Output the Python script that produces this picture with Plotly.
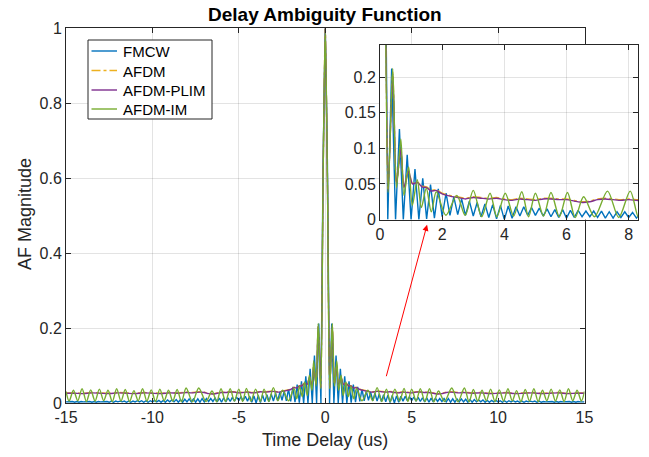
import numpy as np
import plotly.graph_objects as go

# ---------------- data (positive delays; AF is symmetric) -------------
fmcw_delay = np.linspace(0, 15, 121)          # delay samples (us)
fmcw_af = [1.0, 0.64, 0.0, 0.212, 0.0, 0.127, 0.0, 0.091, 0.0, 0.071,
           0.0, 0.058, 0.001, 0.049, 0.002, 0.043, 0.004, 0.037, 0.006, 0.032,
           0.007, 0.029, 0.006, 0.026, 0.005, 0.024, 0.004, 0.022, 0.003, 0.021,
           0.001, 0.020, 0.0, 0.019, 0.002, 0.018, 0.005, 0.018, 0.006, 0.017,
           0.006, 0.016, 0.005, 0.015, 0.004, 0.014, 0.003, 0.014, 0.002, 0.013,
           0.003, 0.013, 0.004, 0.012, 0.004, 0.012, 0.003, 0.012, 0.002, 0.011,
           0.002, 0.011, 0.003, 0.011, 0.003, 0.010, 0.002, 0.009, 0.002, 0.009,
           0.003, 0.008, 0.003, 0.008, 0.002, 0.007, 0.002, 0.007, 0.003, 0.007,
           0.003, 0.006, 0.002, 0.006, 0.002, 0.006, 0.003, 0.006, 0.003, 0.005,
           0.002, 0.005, 0.002, 0.005, 0.003, 0.005, 0.003, 0.005, 0.002, 0.005,
           0.002, 0.004, 0.003, 0.004, 0.003, 0.004, 0.002, 0.004, 0.002, 0.004,
           0.003, 0.004, 0.003, 0.004, 0.002, 0.004, 0.002, 0.004, 0.003, 0.004,
           0.003]

plim_delay = [0, 0.125, 0.26, 0.41, 0.53, 0.67, 0.77, 0.92, 1.04, 1.2,
              1.35, 1.5, 1.65, 1.8, 2.0, 2.25, 2.5, 2.75, 3.0, 3.25,
              3.5, 3.75, 4.0, 4.25, 4.5, 4.75, 5.0, 5.25, 5.5, 5.75,
              6.0, 6.25, 6.5, 6.75, 7.0, 7.25, 7.5, 7.75, 8.0, 8.5,
              9.0, 9.5, 10.0, 10.5, 11.0, 11.5, 12.0, 12.5, 13.0, 13.5,
              14.0, 14.5, 15.0]
afdm_af = [1.0, 0.6, 0.041, 0.206, 0.051, 0.1, 0.046, 0.069, 0.051, 0.053,
           0.047, 0.046, 0.041, 0.042, 0.037, 0.034, 0.032, 0.030, 0.032, 0.031,
           0.030, 0.031, 0.029, 0.028, 0.030, 0.029, 0.028, 0.030, 0.030, 0.029,
           0.029, 0.027, 0.025, 0.026, 0.029, 0.030, 0.029, 0.028, 0.029, 0.027,
           0.028, 0.026, 0.027, 0.028, 0.026, 0.027, 0.028, 0.026, 0.027, 0.028,
           0.026, 0.027, 0.027]
plim_af = [1.0, 0.6, 0.04, 0.205, 0.05, 0.1, 0.045, 0.068, 0.05, 0.052,
           0.046, 0.045, 0.04, 0.041, 0.036, 0.033, 0.031, 0.029, 0.031, 0.030,
           0.029, 0.030, 0.028, 0.027, 0.029, 0.028, 0.027, 0.029, 0.029, 0.028,
           0.028, 0.026, 0.024, 0.025, 0.028, 0.029, 0.028, 0.027, 0.028, 0.026,
           0.027, 0.025, 0.026, 0.027, 0.025, 0.026, 0.027, 0.025, 0.026, 0.027,
           0.025, 0.026, 0.026]

im_delay = [0, 0.125, 0.26, 0.41, 0.53, 0.67, 0.77, 0.92, 1.04, 1.20,
            1.33, 1.49, 1.65, 1.81, 2.12, 2.47, 2.74, 3.00, 3.27, 3.54,
            3.76, 4.03, 4.30, 4.56, 4.78, 5.00, 5.26, 5.50, 5.77, 6.03,
            6.28, 6.55, 6.90, 7.32, 7.68, 8.05, 8.32, 8.57, 8.82, 9.07,
            9.32, 9.57, 9.82, 10.07, 10.32, 10.57, 10.82, 11.07, 11.32, 11.57,
            11.82, 12.07, 12.32, 12.57, 12.82, 13.07, 13.32, 13.57, 13.82, 14.07,
            14.32, 14.57, 14.82, 15.0]
im_af = [1.0, 0.6, 0.038, 0.212, 0.045, 0.113, 0.034, 0.074, 0.02, 0.056,
         0.017, 0.044, 0.011, 0.039, 0.006, 0.034, 0.006, 0.041, 0.004, 0.037,
         0.004, 0.037, 0.005, 0.039, 0.004, 0.037, 0.005, 0.038, 0.004, 0.038,
         0.003, 0.032, 0.004, 0.040, 0.003, 0.040, 0.003, 0.036, 0.005, 0.034,
         0.006, 0.037, 0.004, 0.035, 0.005, 0.038, 0.006, 0.033, 0.004, 0.036,
         0.005, 0.038, 0.004, 0.034, 0.006, 0.037, 0.005, 0.035, 0.004, 0.038,
         0.006, 0.034, 0.005, 0.031]

series_names = ["FMCW", "AFDM", "AFDM-PLIM", "AFDM-IM"]

x_ticks = [-15, -10, -5, 0, 5, 10, 15]
x_ticktext = ["-15", "-10", "-5", "0", "5", "10", "15"]
y_ticks = [0, 0.2, 0.4, 0.6, 0.8, 1]
y_ticktext = ["0", "0.2", "0.4", "0.6", "0.8", "1"]
inset_x_ticks = [0, 2, 4, 6, 8]
inset_y_ticks = [0, 0.05, 0.1, 0.15, 0.2]
inset_y_ticktext = ["0", "0.05", "0.1", "0.15", "0.2"]


def mirror(x, y):
    x = np.asarray(x, dtype=float)
    y = np.asarray(y, dtype=float)
    return (np.concatenate([-x[::-1], x[1:]]), np.concatenate([y[::-1], y[1:]]))


FONT = "Liberation Sans, Arial, Helvetica, sans-serif"
AX = "#262626"
GRID = "rgba(38,38,38,0.13)"

styles = [("#0072BD", "solid", "linear", 0.6),
          ("#EDB120", "dashdot", "spline", 0.6),
          ("#7E2F8E", "solid", "spline", 0.6),
          ("#77AC30", "solid", "spline", 0.85)]
data = [(fmcw_delay, fmcw_af), (plim_delay, afdm_af), (plim_delay, plim_af), (im_delay, im_af)]

fig = go.Figure()
for axes in (("x", "y"), ("x2", "y2")):
    for name, (color, dash, shape, smooth), (dx, dy) in zip(series_names, styles, data):
        xx, yy = mirror(dx, dy)
        fig.add_trace(go.Scatter(x=xx, y=yy, mode="lines", name=name, showlegend=False,
                                 line=dict(color=color, width=1.4, dash=dash, shape=shape,
                                           smoothing=smooth),
                                 xaxis=axes[0], yaxis=axes[1]))

# the page's body margin is removed by the post script, so figure pixel = screen pixel
W, H = 649, 457
ML, MR, MT, MB = 66, 5, 28, 54
PW = W - ML - MR
PH = H - MT - MB


def clamp(v):
    return min(1.0, max(0.0, v))


def px_x(p):
    return (p - ML) / PW


def px_y(p):
    return (H - MB - p) / PH


axis_common = dict(showgrid=True, gridcolor=GRID, gridwidth=1, showline=True, linecolor=AX,
                   linewidth=1, mirror="ticks", ticks="inside", ticklen=5, tickcolor=AX,
                   zeroline=False, tickfont=dict(size=16, color=AX, family=FONT))

fig.update_layout(
    width=W, height=H,
    margin=dict(l=ML, r=MR, t=MT, b=MB, autoexpand=False),
    paper_bgcolor="white", plot_bgcolor="white",
    font=dict(family=FONT, color=AX),
    xaxis=dict(domain=[0, clamp(px_x(584.5))], range=[-15, 15], tickvals=x_ticks,
               ticktext=x_ticktext, anchor="y", **axis_common),
    yaxis=dict(domain=[clamp(px_y(403.3)), clamp(px_y(28.3))], range=[0, 1], tickvals=y_ticks,
               ticktext=y_ticktext, anchor="x", **axis_common),
    xaxis2=dict(domain=[clamp(px_x(380)), clamp(px_x(638))], range=[0, 8.3],
                tickvals=inset_x_ticks, anchor="y2", **axis_common),
    yaxis2=dict(domain=[clamp(px_y(219.6)), clamp(px_y(45))], range=[0, 0.245],
                tickvals=inset_y_ticks, ticktext=inset_y_ticktext, anchor="x2", **axis_common),
    showlegend=False,
)

# legend box (drawn as real text + line samples)
shapes = [dict(type="rect", xref="paper", yref="paper", x0=px_x(88), x1=px_x(212),
               y0=px_y(119), y1=px_y(40), line=dict(color=AX, width=1),
               fillcolor="white", layer="above")]
legend_rows = [51, 70.5, 90, 109]
for name, (color, dash, _, _), ry in zip(series_names, styles, legend_rows):
    shapes.append(dict(type="line", xref="paper", yref="paper", x0=px_x(91.5), x1=px_x(117),
                       y0=px_y(ry), y1=px_y(ry), line=dict(color=color, width=1.4, dash=dash),
                       layer="above"))
    fig.add_annotation(text=name, xref="paper", yref="paper", x=px_x(121), y=px_y(ry + 0.5),
                       xanchor="left", yanchor="middle", showarrow=False,
                       font=dict(size=15, color="black", family=FONT))
fig.update_layout(shapes=shapes)

fig.add_annotation(text="<b>Delay Ambiguity Function</b>", xref="paper", yref="paper",
                   x=px_x(325.25), y=px_y(14.5), xanchor="center", yanchor="middle",
                   showarrow=False, font=dict(size=19, color="black", family=FONT))
fig.add_annotation(text="Time Delay (us)", xref="paper", yref="paper",
                   x=px_x(325.25), y=px_y(440), xanchor="center", yanchor="middle",
                   showarrow=False, font=dict(size=18, color=AX, family=FONT))
fig.add_annotation(text="AF Magnitude", xref="paper", yref="paper",
                   x=px_x(25), y=px_y(214), xanchor="center", yanchor="middle",
                   textangle=-90, showarrow=False, font=dict(size=18, color=AX, family=FONT))
fig.add_annotation(x=5.89, y=0.4755, ax=3.51, ay=0.0675, xref="x", yref="y",
                   axref="x", ayref="y", text="", showarrow=True, arrowhead=2,
                   arrowsize=1.2, arrowwidth=1, arrowcolor="red", standoff=0)

fig.write_html("out.html", config={"displayModeBar": False},
               post_script="document.body.style.margin='0';document.body.style.overflow='hidden';")
